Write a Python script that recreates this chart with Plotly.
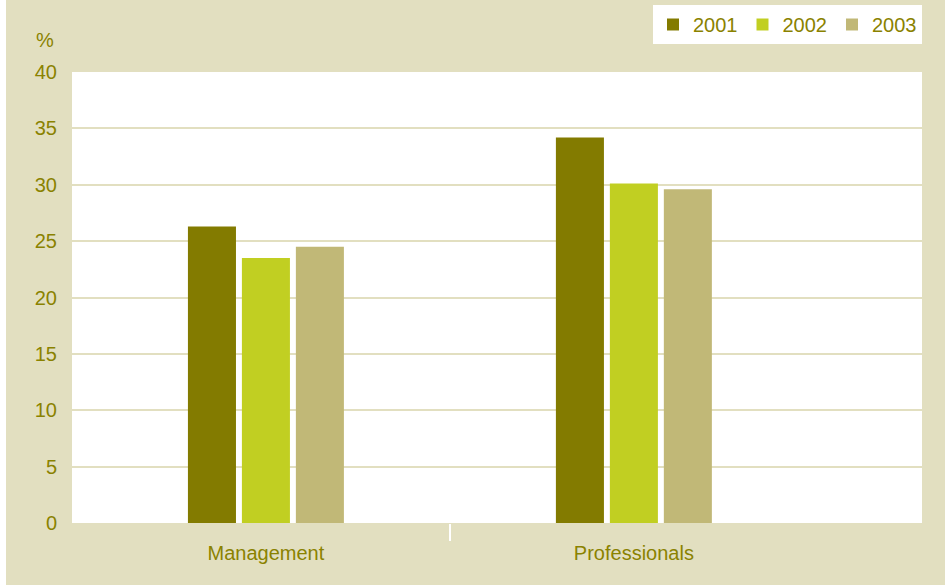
import plotly.graph_objects as go

categories = ["Management", "Professionals"]
years = ["2001", "2002", "2003"]
values_2001 = [26.3, 34.2]
values_2002 = [23.5, 30.1]
values_2003 = [24.5, 29.6]
y_ticks = [0, 5, 10, 15, 20, 25, 30, 35, 40]

colors = ["#837b00", "#c1cf22", "#c1b877"]
beige = "#e2dfc0"
text_col = "#8a8200"
font_family = "Liberation Sans, Arial, sans-serif"

x_pos = list(range(len(categories)))
series = [values_2001, values_2002, values_2003]

fig = go.Figure()
for name, vals, col in zip(years, series, colors):
    fig.add_trace(go.Bar(x=x_pos, y=vals, name=name, marker=dict(color=col, line=dict(width=0))))

W, H = 945, 585
ml, mr, mt, mb = 72, 23, 72, 62
pw, ph = W - ml - mr, H - mt - mb

fig.update_layout(
    width=W, height=H,
    margin=dict(l=ml, r=mr, t=mt, b=mb, pad=0, autoexpand=False),
    paper_bgcolor="white",
    plot_bgcolor="white",
    barmode="group",
    bargap=0.56,
    bargroupgap=0.11,
    font=dict(family=font_family, size=20, color=text_col),
    showlegend=True,
    legend=dict(
        orientation="h", xref="container", x=(W - 23) / W, xanchor="right",
        yref="container", y=1 - 5 / H, yanchor="top",
        bgcolor="white", font=dict(size=20, color=text_col),
        traceorder="normal", itemwidth=30, tracegroupgap=0,
    ),
    xaxis=dict(
        range=[-0.527, 1.783],
        tickmode="array", tickvals=x_pos, ticktext=categories,
        ticks="", showgrid=False, zeroline=False, showline=False,
        ticklabelstandoff=16,
        minor=dict(tickmode="array", tickvals=[0.5], ticks="outside",
                   ticklen=17, tickwidth=2, tickcolor="white", showgrid=False),
        fixedrange=True,
    ),
    yaxis=dict(
        range=[0, 40],
        tickmode="array", tickvals=y_ticks,
        ticks="", showgrid=True, gridcolor=beige, gridwidth=2,
        zeroline=False, showline=False,
        ticklabelstandoff=14,
    ),
    shapes=[
        dict(type="rect", xref="paper", yref="paper", layer="below",
             x0=(6 - ml) / pw, x1=(W - ml) / pw + 0.01, y0=-mb / ph - 0.01, y1=1 + mt / ph + 0.01,
             fillcolor=beige, line=dict(width=0)),
        dict(type="rect", xref="paper", yref="paper", layer="below",
             x0=0, x1=1, y0=0, y1=1, fillcolor="white", line=dict(width=0)),
    ],
    annotations=[
        dict(text="%", xref="paper", yref="paper", x=(45 - ml) / pw, y=1 + (mt - 40) / ph,
             xanchor="center", yanchor="middle", showarrow=False,
             font=dict(size=20, color=text_col)),
    ],
)

fig.write_html("out.html")
